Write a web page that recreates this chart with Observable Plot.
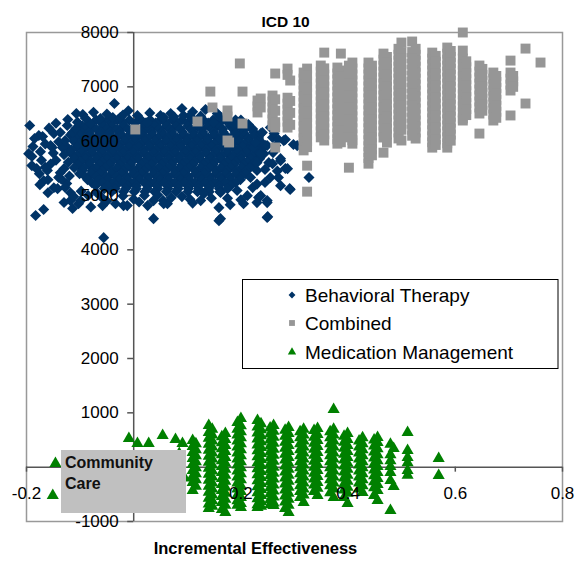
<!DOCTYPE html>
<html><head><meta charset="utf-8">
<script src="https://cdn.jsdelivr.net/npm/d3@7"></script>
<script src="https://cdn.jsdelivr.net/npm/@observablehq/plot@0.6"></script>
<style>
html,body{margin:0;padding:0;background:#fff;}
#wrap{position:relative;width:582px;height:562px;overflow:hidden;}
#wrap svg{display:block;}
#overlay{position:absolute;left:0;top:0;pointer-events:none;}
</style></head><body><div id="wrap"></div>
<script>
// ---------- texts ----------
const titleText = "ICD 10";
const xLabel = "Incremental Effectiveness";
const seriesNames = ["Behavioral Therapy", "Combined", "Medication Management"];
const seriesColors = ["#003366", "#969696", "#008000"];
const annotationLines = ["Community", "Care"];

// ---------- ticks (the "0" labels sit under the annotation box in the original) ----------
const xTicks = [-0.2, 0, 0.2, 0.4, 0.6, 0.8];
const xLabelTicks = [-0.2, 0.2, 0.4, 0.6, 0.8];
const xTickLabels = ["-0.2", "0.2", "0.4", "0.6", "0.8"];
const yTicks = [-1000, 0, 1000, 2000, 3000, 4000, 5000, 6000, 7000, 8000];
const yLabelTicks = [-1000, 1000, 2000, 3000, 4000, 5000, 6000, 7000, 8000];
const yTickLabels = ["-1000", "1000", "2000", "3000", "4000", "5000", "6000", "7000", "8000"];

// ---------- Behavioral Therapy: dense core rows [y, [x...]] ----------
const blueCoreRows = [
 [6390, [-0.07,-0.048,-0.03,-0.008,0.014,0.031,0.05,0.072,0.09,0.112,0.13,0.148,0.171,0.19]],
 [6335, [-0.083,-0.06,-0.041,-0.02,0.003,0.022,0.041,0.06,0.081,0.1,0.121,0.139,0.16,0.18,0.2]],
 [6280, [-0.096,-0.079,-0.057,-0.041,-0.019,0.002,0.02,0.039,0.061,0.079,0.101,0.119,0.139,0.157,0.18,0.197,0.214]],
 [6225, [-0.106,-0.09,-0.07,-0.05,-0.031,-0.011,0.008,0.028,0.048,0.068,0.087,0.107,0.127,0.146,0.166,0.186,0.206,0.222]],
 [6170, [-0.099,-0.083,-0.061,-0.044,-0.026,-0.004,0.016,0.034,0.053,0.071,0.091,0.111,0.129,0.149,0.167,0.189,0.204,0.224]],
 [6115, [-0.118,-0.1,-0.081,-0.062,-0.043,-0.023,-0.004,0.015,0.035,0.055,0.072,0.092,0.112,0.13,0.15,0.17,0.188,0.208,0.226]],
 [6060, [-0.109,-0.091,-0.071,-0.053,-0.034,-0.014,0.006,0.024,0.045,0.063,0.081,0.101,0.121,0.139,0.159,0.177,0.197,0.214,0.233]],
 [6005, [-0.112,-0.093,-0.075,-0.056,-0.035,-0.016,0.002,0.021,0.04,0.06,0.08,0.099,0.118,0.138,0.157,0.176,0.195,0.215,0.232]],
 [5950, [-0.101,-0.084,-0.066,-0.044,-0.026,-0.007,0.011,0.031,0.049,0.071,0.089,0.109,0.127,0.149,0.166,0.184,0.206,0.221,0.241]],
 [5895, [-0.125,-0.106,-0.085,-0.066,-0.047,-0.028,-0.009,0.01,0.03,0.05,0.069,0.088,0.108,0.127,0.145,0.165,0.185,0.203,0.222,0.24]],
 [5840, [-0.116,-0.094,-0.076,-0.057,-0.037,-0.019,0.001,0.019,0.041,0.059,0.077,0.099,0.117,0.136,0.154,0.176,0.194,0.213,0.231]],
 [5785, [-0.118,-0.098,-0.079,-0.06,-0.039,-0.02,-0.001,0.019,0.038,0.057,0.077,0.096,0.115,0.135,0.155,0.174,0.193,0.211,0.229]],
 [5730, [-0.107,-0.089,-0.067,-0.049,-0.029,-0.011,0.009,0.029,0.047,0.067,0.087,0.106,0.124,0.146,0.164,0.184,0.201,0.221,0.237]],
 [5675, [-0.11,-0.09,-0.07,-0.05,-0.031,-0.012,0.008,0.028,0.047,0.066,0.085,0.105,0.124,0.143,0.162,0.182,0.2,0.219,0.235]],
 [5620, [-0.099,-0.081,-0.059,-0.041,-0.021,-0.003,0.019,0.037,0.057,0.074,0.096,0.114,0.135,0.151,0.173,0.191,0.211,0.227]],
 [5565, [-0.104,-0.083,-0.064,-0.045,-0.026,-0.006,0.014,0.033,0.052,0.071,0.09,0.11,0.13,0.148,0.168,0.186,0.205,0.222]],
 [5510, [-0.111,-0.093,-0.071,-0.053,-0.031,-0.013,0.009,0.025,0.047,0.065,0.086,0.103,0.125,0.142,0.163,0.181,0.201,0.217]],
 [5455, [-0.096,-0.078,-0.059,-0.04,-0.02,0.0,0.019,0.038,0.058,0.077,0.096,0.115,0.134,0.154,0.173,0.192,0.21]],
 [5400, [-0.101,-0.079,-0.063,-0.041,-0.023,-0.001,0.015,0.037,0.054,0.076,0.093,0.115,0.132,0.153,0.171,0.191,0.209]],
 [5345, [-0.09,-0.07,-0.051,-0.032,-0.012,0.007,0.026,0.046,0.065,0.084,0.103,0.123,0.142,0.161,0.18,0.2]],
 [5290, [-0.086,-0.065,-0.049,-0.027,-0.011,0.011,0.027,0.049,0.065,0.087,0.104,0.126,0.143,0.164,0.181,0.199]],
 [5235, [-0.078,-0.058,-0.038,-0.02,0.0,0.02,0.038,0.057,0.076,0.095,0.114,0.133,0.152,0.171,0.19]],
 [5180, [-0.071,-0.049,-0.033,-0.011,0.005,0.027,0.044,0.065,0.083,0.104,0.121,0.143,0.159,0.181]],
 [5125, [-0.055,-0.035,-0.015,0.005,0.025,0.045,0.064,0.083,0.102,0.121,0.14,0.16,0.175]],
 [5070, [-0.041,-0.019,0.001,0.021,0.039,0.061,0.079,0.101,0.119,0.141,0.161]]
];
// ---------- Behavioral Therapy: scattered points [x, y] ----------
const blueScatter = [
 [-0.194,6289],[-0.196,5770],[-0.174,5807],[-0.181,5494],[-0.176,5402],[-0.16,5291],[-0.183,4632],[-0.168,4743],
 [-0.056,4224],[-0.036,6693],[-0.123,6399],[-0.107,6510],[-0.095,6491],[-0.062,6418],[-0.039,6436],[-0.025,6436],
 [0.007,6473],[-0.149,6141],[-0.17,6085],[-0.152,5883],[-0.137,6159],[-0.114,6159],[-0.13,5494],[-0.142,5126],
 [-0.118,4906],[-0.114,4761],[-0.103,4850],[-0.058,4814],[-0.034,4850],[-0.012,4814],[0.026,4814],[0.037,4574],
 [0.055,4906],[0.159,4537],[0.25,4611],[0.291,5126],[0.237,6138],[0.283,5497],[0.292,5110],[0.249,4595],
 [0.274,5181],[0.255,5331],[0.233,4963],[0.212,4997],[0.305,5918],[0.28,6010],[0.327,5331],
 [0.05,6473],[0.069,6510],[0.093,6473],[0.134,6583],[0.156,6510],[0.214,6307],[0.255,6252],[0.298,5939],
 [0.27,5332],[0.249,4869],[0.23,4869],[0.205,4850],[0.162,4574],[0.125,4906],[0.063,4850],[-0.019,4814],
 [-0.099,4906],[-0.149,5144],[-0.168,5273],[-0.137,5420],[-0.161,5461],[-0.155,5921],[-0.133,5884],[-0.177,6104],
 [-0.124,6289],[-0.108,6233],[-0.081,6325],[0.025,6344],[0.056,6436],[0.119,6380],[0.187,6307],[0.19,6141],
 [0.224,5884],[0.243,5770],[0.23,5461],[0.218,5332],[0.193,5093],[0.162,5056],[0.131,5034],
 [0.149,6344],[0.24,6160],[0.227,5976],[0.246,5921],[0.259,6067],[0.237,5770],[0.252,5605],[0.274,5678],
 [0.287,5494],[0.249,5921],[0.283,6030],[0.23,5605],[0.259,5586],[0.274,5641],[0.222,5145],[0.237,4997],
 [0.249,4906],[0.159,4776],[0.037,4906],[0.056,4850],
 [-0.145,5650],[-0.155,5580],[-0.14,5330],[-0.125,5220],[-0.118,5050],[-0.098,5080],[-0.085,5000],[-0.13,5750],
 [-0.14,5990],[-0.165,5950],[-0.19,5720],[-0.128,6010],[-0.122,5610],[-0.12,5360],[-0.01,6560],[0.09,6600],
 [0.11,6540],[-0.075,6530],[0.09,4980],[0.105,4930],[-0.06,4970],[-0.02,4990],[0.0,4930],
 [-0.188,5900],[-0.185,6050],[-0.172,5650],[-0.165,5520],[-0.158,6240],[-0.15,5780],[-0.145,6330],[-0.135,5300],
 [-0.128,5150],[-0.112,4980],[-0.105,6350],[-0.09,6420],[-0.175,5200],[-0.19,5550],[-0.16,5050],[-0.13,4870],
 [-0.05,6500],[-0.02,6480],[0.03,6520],[0.075,6450],[0.105,6470],[0.125,6460],[0.17,6420],[0.2,6390],[0.16,6460],
 [-0.07,5060],[-0.05,4900],[0.01,4880],[0.07,4960],[0.11,4860],[0.145,4950],[0.175,4950],[0.18,4830],[0.2,4920],
 [-0.08,4790],[0.02,5000],[0.045,5010],
 [0.245,5480],[0.26,5790],[0.265,5920],[0.268,5450],[0.245,5240],[0.23,5210],[0.262,6140],[0.27,6030]
];

// ---------- Combined: columns [x, [y...]] ----------
const combinedCols = [
 [0.003, [6215]],
 [0.119, [6362]],
 [0.143, [6913]],
 [0.147, [6620]],
 [0.175, [6565, 6454, 6012]],
 [0.178, [5976]],
 [0.198, [7430]],
 [0.203, [6913, 6325]],
 [0.231, [6748, 6640, 6528]],
 [0.237, [6785, 6620]],
 [0.259, [6840, 6730, 6620, 6510, 6400, 6290]],
 [0.264, [7245, 6770, 6560, 6350, 6252, 5884]],
 [0.287, [7336, 7220, 6800, 6690, 6580, 6470, 6360, 6250]],
 [0.292, [7116, 6740, 6520, 6300]],
 [0.317, [7263, 7150, 7040, 6930, 6820, 6710, 6600, 6490, 6380, 6270, 6160, 6050, 5940, 5830]],
 [0.3235, [7336, 7210, 7100, 6990, 6880, 6770, 6660, 6550, 6440, 6330, 6220, 6110, 6000, 5890, 5549, 5071]],
 [0.349, [7392, 7280, 7170, 7060, 6950, 6840, 6730, 6620, 6510, 6400, 6290, 6180, 6070]],
 [0.3555, [7630, 7340, 7225, 7115, 7005, 6895, 6785, 6675, 6565, 6455, 6345, 6235, 6125, 6012]],
 [0.38, [7355, 7245, 7135, 7025, 6915, 6805, 6695, 6585, 6475, 6365, 6255, 6145, 6035, 5954]],
 [0.3865, [7612, 7300, 7190, 7080, 6970, 6860, 6750, 6640, 6530, 6420, 6310, 6200, 6090, 5980]],
 [0.408, [7447, 7337, 7227, 7117, 7007, 6897, 6787, 6677, 6567, 6457, 6347, 6237, 6127, 6017, 5954]],
 [0.4015, [7390, 7280, 7170, 7060, 6950, 6840, 6730, 6620, 6510, 6400, 6290, 6180, 6070, 5512]],
 [0.438, [7447, 7337, 7227, 7117, 7007, 6897, 6787, 6677, 6567, 6457, 6347, 6237, 6127, 6017, 5907, 5797, 5690, 5586]],
 [0.4445, [7390, 7280, 7170, 7060, 6950, 6840, 6730, 6620, 6510, 6400, 6290, 6180, 6070, 5960, 5850, 5740]],
 [0.466, [7612, 7500, 7390, 7280, 7170, 7060, 6950, 6840, 6730, 6620, 6510, 6400, 6290, 6180, 6067, 5788]],
 [0.4725, [7550, 7440, 7330, 7220, 7110, 7000, 6890, 6780, 6670, 6560, 6450, 6340, 6230, 6120, 5973]],
 [0.494, [7700, 7590, 7480, 7370, 7260, 7150, 7040, 6930, 6820, 6710, 6600, 6490, 6380, 6270, 6160, 6050]],
 [0.4995, [7815, 7640, 7530, 7420, 7310, 7200, 7090, 6980, 6870, 6760, 6650, 6540, 6430, 6320, 6210, 6012]],
 [0.526, [7700, 7590, 7480, 7370, 7260, 7150, 7040, 6930, 6820, 6710, 6600, 6490, 6380, 6270, 6160, 6048]],
 [0.5195, [7834, 7640, 7530, 7420, 7310, 7200, 7090, 6980, 6870, 6760, 6650, 6540, 6430, 6320, 6210, 6100]],
 [0.557, [7630, 7520, 7410, 7300, 7190, 7080, 6970, 6860, 6750, 6640, 6530, 6420, 6310, 6200, 6090, 5980, 5881]],
 [0.5635, [7570, 7460, 7350, 7240, 7130, 7020, 6910, 6800, 6690, 6580, 6470, 6360, 6250, 6140, 6030, 5930]],
 [0.585, [7723, 7610, 7500, 7390, 7280, 7170, 7060, 6950, 6840, 6730, 6620, 6510, 6400, 6290, 6180, 6070, 5960, 5881]],
 [0.5915, [7660, 7550, 7440, 7330, 7220, 7110, 7000, 6890, 6780, 6670, 6560, 6450, 6340, 6230, 6120, 6010]],
 [0.614, [8000, 7667, 7520, 7410, 7300, 7190, 7080, 6970, 6860, 6750, 6640, 6530, 6420, 6380]],
 [0.6205, [7470, 7360, 7250, 7140, 7030, 6920, 6810, 6700, 6590, 6480]],
 [0.645, [7392, 7280, 7170, 7060, 6950, 6840, 6730, 6620, 6509, 6140]],
 [0.6505, [7330, 7220, 7110, 7000, 6890, 6780, 6670, 6560]],
 [0.671, [7263, 7150, 7040, 6930, 6820, 6710, 6600, 6490, 6380]],
 [0.6765, [7200, 7090, 6980, 6870, 6760, 6650, 6540, 6430]],
 [0.703, [7483, 7263, 7150, 7040, 6932, 6473]],
 [0.708, [7200, 7100, 7000]],
 [0.731, [7704, 6693]],
 [0.759, [7447]]
];

// ---------- Medication Management: columns [x, [y...]] and scattered [x, y] ----------
const medCols = [
 [0.11, [491, 380, 270, 160, 50, -60, -170, -280, -430]],
 [0.116, [430, 320, 210, 100, -10, -120, -230, -350]],
 [0.14, [768, 640, 530, 420, 310, 200, 90, -20, -130, -240, -350, -460, -570, -680, -760]],
 [0.1465, [700, 590, 480, 370, 260, 150, 40, -70, -180, -290, -400, -510, -620, -720]],
 [0.171, [620, 510, 400, 290, 180, 70, -40, -150, -260, -370, -480, -590, -700, -835]],
 [0.1645, [560, 450, 340, 230, 120, 10, -100, -210, -320, -430, -540, -650, -780]],
 [0.2, [896, 760, 650, 540, 430, 320, 210, 100, -10, -120, -230, -340, -450, -560, -670, -742]],
 [0.1935, [820, 700, 590, 480, 370, 260, 150, 40, -70, -180, -290, -400, -510, -620, -700]],
 [0.231, [860, 740, 630, 520, 410, 300, 190, 80, -30, -140, -250, -360, -470, -580, -690, -742]],
 [0.2375, [800, 690, 580, 470, 360, 250, 140, 30, -80, -190, -300, -410, -520, -630, -720]],
 [0.261, [768, 660, 550, 440, 330, 220, 110, 0, -110, -220, -330, -440, -550, -660, -705]],
 [0.2545, [720, 610, 500, 390, 280, 170, 60, -50, -160, -270, -380, -490, -600, -690]],
 [0.289, [731, 620, 510, 400, 290, 180, 70, -40, -150, -260, -370, -480, -590, -700, -835]],
 [0.2825, [680, 570, 460, 350, 240, 130, 20, -90, -200, -310, -420, -530, -640, -760]],
 [0.317, [700, 590, 480, 370, 260, 150, 40, -70, -180, -290, -400, -510, -650]],
 [0.3105, [650, 540, 430, 320, 210, 100, -10, -120, -230, -340, -450, -560]],
 [0.343, [712, 600, 490, 380, 270, 160, 50, -60, -170, -280, -390, -522]],
 [0.3365, [675, 550, 440, 330, 220, 110, 0, -110, -220, -330, -450]],
 [0.373, [1060, 700, 590, 480, 370, 260, 150, 40, -70, -180, -290, -400, -560]],
 [0.3665, [650, 540, 430, 320, 210, 100, -10, -120, -230, -340, -470]],
 [0.399, [620, 510, 400, 290, 180, 70, -40, -150, -260, -370, -480, -668]],
 [0.3925, [570, 460, 350, 240, 130, 20, -90, -200, -310, -420, -560]],
 [0.427, [540, 430, 320, 210, 100, -10, -120, -230, -340, -466]],
 [0.4205, [480, 370, 260, 150, 40, -70, -180, -290, -400]],
 [0.455, [546, 453, 340, 230, 120, 10, -100, -210, -320, -430, -613]],
 [0.4485, [500, 390, 280, 170, 60, -50, -160, -270, -380, -520]],
 [0.479, [420, 230, 120, 10, -100, -245, -797]],
 [0.485, [344, -355]],
 [0.511, [638, 307, 180, 80, -60, -150]],
 [0.569, [160, -153]]
];
const medScatter = [
 [-0.146,68],[-0.151,-522],[-0.009,528],[0.007,436],[0.028,436],[0.054,583],[0.078,510],[0.091,436],
 [0.04,150],[0.065,-120],[0.085,250],[0.02,-300],[0.075,-450],[0.095,-200]
];

// ---------- build tables ----------
const blue = [
  ...blueCoreRows.flatMap(([y, xs]) => xs.map(x => ({x, y}))),
  ...blueScatter.map(([x, y]) => ({x, y}))
];
const gray = combinedCols.flatMap(([x, ys]) => ys.map(y => ({x, y})));
const green = [
  ...medScatter.map(([x, y]) => ({x, y})),
  ...medCols.flatMap(([x, ys]) => ys.map(y => ({x, y})))
];

const font = "'Liberation Sans', Arial, sans-serif";
const axisColor = "#555";

const chart = Plot.plot({
  width: 582, height: 562,
  marginLeft: 26, marginRight: 20, marginTop: 32, marginBottom: 41,
  x: {domain: [-0.2, 0.8], axis: null},
  y: {domain: [-1000, 8000], axis: null},
  style: {fontFamily: font, background: "white", color: "black", overflow: "visible"},
  marks: [
    Plot.frame({stroke: "#999", strokeWidth: 1.5}),
    Plot.ruleX([0], {stroke: axisColor, strokeWidth: 1.5}),
    Plot.ruleY([0], {stroke: axisColor, strokeWidth: 1.5}),
    Plot.ruleX(xTicks, {x: d => d, y1: 0, y2: 0, insetTop: 0, insetBottom: -5, stroke: axisColor, strokeWidth: 1.5}),
    Plot.ruleY(yTicks, {y: d => d, x1: 0, x2: 0, insetLeft: -6, insetRight: 0, stroke: axisColor, strokeWidth: 1.5}),
    Plot.dot(blue, {x: "x", y: "y", symbol: "diamond2", r: 5.0, fill: seriesColors[0], stroke: null}),
    Plot.dot(gray, {x: "x", y: "y", symbol: "square", r: 5.6, fill: seriesColors[1], stroke: null}),
    Plot.dot(green, {x: "x", y: "y", symbol: "triangle", r: 4.5, fill: seriesColors[2], stroke: null}),
    Plot.text(xLabelTicks, {x: d => d, y: 0, text: (d, i) => xTickLabels[i], dy: 26, fontSize: 17, fill: "black"}),
    Plot.text(yLabelTicks, {x: 0, y: d => d, text: (d, i) => yTickLabels[i], dx: -15, textAnchor: "end", fontSize: 17, fill: "black"}),
    Plot.text([titleText], {frameAnchor: "top", dy: -17, dx: -9, fontWeight: "bold", fontSize: 15.5, fill: "black"}),
    Plot.text([xLabel], {frameAnchor: "bottom", dy: 32, dx: -39, fontWeight: "bold", fontSize: 16.5, fill: "black"})
  ]
});
const wrap = document.getElementById("wrap");
wrap.append(chart);

// ---------- overlay: legend and annotation box ----------
const ov = d3.create("svg").attr("id", "overlay").attr("width", 582).attr("height", 562)
  .style("font-family", font);
const lg = ov.append("g");
lg.append("rect").attr("x", 242.5).attr("y", 279.5).attr("width", 315.5).attr("height", 89)
  .attr("fill", "white").attr("stroke", "black").attr("stroke-width", 1);
const legSymbols = [d3.symbolDiamond2, d3.symbolSquare, d3.symbolTriangle];
const legSizes = [30, 34, 30];
const legRowY = [295, 323, 352];
seriesNames.forEach((name, i) => {
  lg.append("path").attr("d", d3.symbol(legSymbols[i], legSizes[i])())
    .attr("transform", `translate(292,${legRowY[i]})`).attr("fill", seriesColors[i]);
  lg.append("text").attr("x", 305).attr("y", legRowY[i] + 7).attr("font-size", 19)
    .attr("fill", "black").text(name);
});
const cc = ov.append("g");
cc.append("rect").attr("x", 61).attr("y", 450).attr("width", 125).attr("height", 63).attr("fill", "#c0c0c0");
annotationLines.forEach((t, i) => {
  cc.append("text").attr("x", 65).attr("y", 468 + i * 21).attr("font-size", 16)
    .attr("font-weight", "bold").attr("fill", "#111").text(t);
});
wrap.append(ov.node());
</script></body></html>
